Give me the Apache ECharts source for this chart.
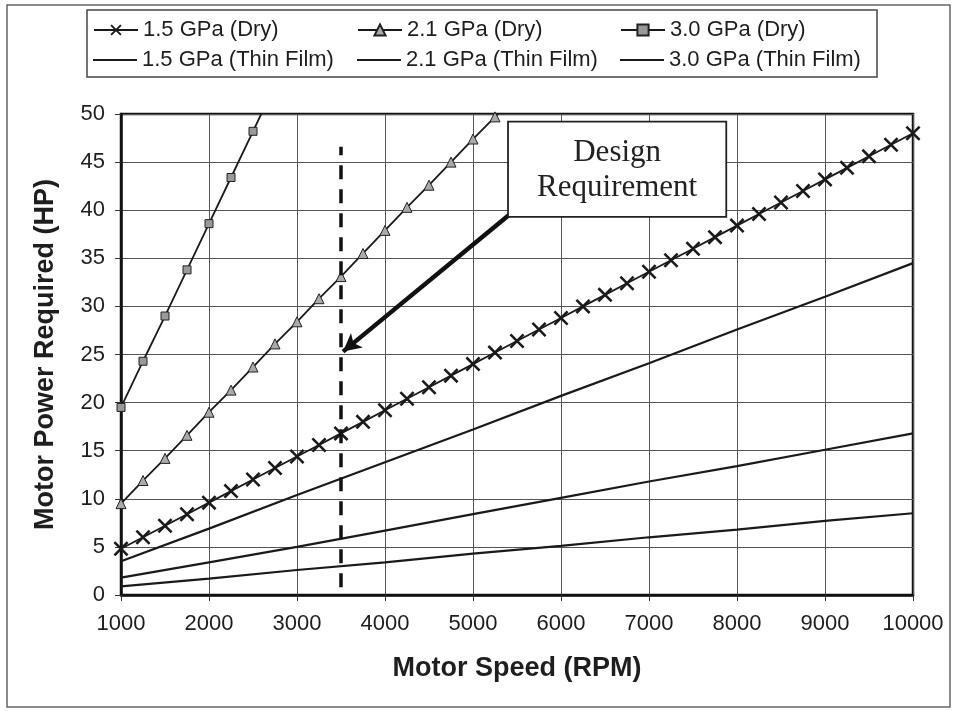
<!DOCTYPE html>
<html>
<head>
<meta charset="utf-8">
<script src="https://cdn.jsdelivr.net/npm/echarts@6/dist/echarts.min.js"></script>
<style>
html, body { margin: 0; padding: 0; background: #fff; }
#lineChart { width: 955px; height: 711px; }
</style>
</head>
<body>
<div id="lineChart"></div>
<script>
'use strict';

// motor speed for the dry curves (markers every 250 rpm)
var rpmDry = [1000, 1250, 1500, 1750, 2000, 2250, 2500, 2750, 3000, 3250, 3500, 3750,
	4000, 4250, 4500, 4750, 5000, 5250, 5500, 5750, 6000, 6250, 6500, 6750,
	7000, 7250, 7500, 7750, 8000, 8250, 8500, 8750, 9000, 9250, 9500, 9750, 10000];
// motor speed for the thin film curves
var rpmThin = [1000, 2000, 3000, 4000, 5000, 6000, 7000, 8000, 9000, 10000];

var dry15 = [4.8, 6.0, 7.2, 8.4, 9.6, 10.8, 12.0, 13.2, 14.4, 15.6, 16.8, 18.0,
	19.2, 20.4, 21.6, 22.8, 24.0, 25.2, 26.4, 27.6, 28.8, 30.0, 31.2, 32.4,
	33.6, 34.8, 36.0, 37.2, 38.4, 39.6, 40.8, 42.0, 43.2, 44.4, 45.6, 46.8, 48.0];
var dry21 = [9.5, 11.9, 14.2, 16.6, 19.0, 21.3, 23.7, 26.1, 28.4, 30.8, 33.1, 35.5,
	37.9, 40.3, 42.6, 45.0, 47.4, 49.7, 52.1];
var dry30 = [19.5, 24.3, 29.0, 33.8, 38.6, 43.4, 48.2, 53.0];

var thin15 = [3.5, 6.9, 10.4, 13.8, 17.2, 20.7, 24.1, 27.6, 31.0, 34.5];
var thin21 = [1.8, 3.4, 5.0, 6.7, 8.4, 10.1, 11.8, 13.4, 15.1, 16.8];
var thin30 = [0.9, 1.7, 2.6, 3.4, 4.3, 5.1, 6.0, 6.8, 7.7, 8.5];

var seriesNames = ['1.5 GPa (Dry)', '2.1 GPa (Dry)', '3.0 GPa (Dry)',
	'1.5 GPa (Thin Film)', '2.1 GPa (Thin Film)', '3.0 GPa (Thin Film)'];

// design requirement annotation (data coords)
var designRpm = 3500;
var designLineRange = [0.8, 46.6];
var arrowFrom = [5409, 39.5];
var arrowTo = [3523, 25.3];
var boxTopLeft = [5398, 49.2];
var boxBottomRight = [7878, 39.3];

var sans = '"Liberation Sans", Arial, sans-serif',
		serif = '"Liberation Serif", "Times New Roman", serif',
		ink = '#1a1a1a';

var crossPath = 'path://M0,1.2L1.2,0L10,8.8L8.8,10Z M8.8,0L10,1.2L1.2,10L0,8.8Z';

function pairs(xs, ys) {
	return ys.map(function (v, i) { return [xs[i], v]; });
}

function plain(v) { return String(v); }

function lineSeries(name, data, extra) {
	var s = {
		name: name,
		type: 'line',
		data: data,
		clip: true,
		animation: false,
		emphasis: { disabled: true },
		lineStyle: { color: ink, width: 1.8 },
		itemStyle: { color: ink }
	};
	for (var k in extra) { s[k] = extra[k]; }
	return s;
}

var legendPos = [
	{ left: 93, top: 19 }, { left: 357, top: 19 }, { left: 620, top: 19 },
	{ left: 93, top: 49 }, { left: 357, top: 49 }, { left: 620, top: 49 }
];

var chart = echarts.init(document.getElementById('lineChart'));

var options = {
	backgroundColor: '#fff',
	animation: false,
	textStyle: { fontFamily: sans },
	legend: seriesNames.map(function (n, i) {
		var thin = i > 2;
		return {
			data: [thin ? { name: n, icon: 'rect' } : n],
			left: legendPos[i].left,
			top: legendPos[i].top,
			padding: 0,
			itemWidth: 44,
			itemHeight: thin ? 2 : 14,
			selectedMode: false,
			textStyle: { fontSize: 22, color: '#1e1e1e', fontFamily: sans }
		};
	}),
	grid: {
		left: 121, right: 42, top: 114, bottom: 116,
		show: true,
		borderColor: '#111',
		borderWidth: 2.5,
		backgroundColor: 'transparent'
	},
	xAxis: {
		type: 'value',
		min: 1000,
		max: 10000,
		interval: 1000,
		name: 'Motor Speed (RPM)',
		nameLocation: 'middle',
		nameGap: 60,
		nameTextStyle: { fontSize: 27, fontWeight: 'bold', color: '#1e1e1e', fontFamily: sans },
		axisLine: { show: true, onZero: false, lineStyle: { color: '#111', width: 2.5 } },
		axisTick: { show: true, length: 6, lineStyle: { color: '#333' } },
		axisLabel: { fontSize: 22, color: '#1e1e1e', margin: 18, fontFamily: sans, formatter: plain },
		splitLine: { show: true, lineStyle: { color: '#555', width: 1 } }
	},
	yAxis: {
		type: 'value',
		min: 0,
		max: 50,
		interval: 5,
		name: 'Motor Power Required (HP)',
		nameLocation: 'middle',
		nameGap: 62,
		nameTextStyle: { fontSize: 27, fontWeight: 'bold', color: '#1e1e1e', fontFamily: sans },
		axisLine: { show: true, onZero: false, lineStyle: { color: '#111', width: 2.5 } },
		axisTick: { show: true, length: 6, lineStyle: { color: '#333' } },
		axisLabel: { fontSize: 22, color: '#1e1e1e', margin: 16, fontFamily: sans, formatter: plain },
		splitLine: { show: true, lineStyle: { color: '#555', width: 1 } }
	},
	series: [
		lineSeries(seriesNames[0], pairs(rpmDry, dry15), {
			symbol: crossPath, symbolSize: 15, z: 4
		}),
		lineSeries(seriesNames[1], pairs(rpmDry, dry21), {
			symbol: 'triangle', symbolSize: 10, z: 4,
			itemStyle: { color: '#aaa', borderColor: '#222', borderWidth: 1 }
		}),
		lineSeries(seriesNames[2], pairs(rpmDry, dry30), {
			symbol: 'rect', symbolSize: 8, z: 4,
			itemStyle: { color: '#999', borderColor: '#222', borderWidth: 1 }
		}),
		lineSeries(seriesNames[3], pairs(rpmThin, thin15), {
			symbol: 'none', lineStyle: { color: ink, width: 2.2 }
		}),
		lineSeries(seriesNames[4], pairs(rpmThin, thin21), {
			symbol: 'none', lineStyle: { color: ink, width: 2.2 }
		}),
		lineSeries(seriesNames[5], pairs(rpmThin, thin30), {
			symbol: 'none', lineStyle: { color: ink, width: 2.2 },
			markLine: {
				silent: true,
				animation: false,
				label: { show: false },
				emphasis: { disabled: true },
				data: [
					[
						{ coord: [designRpm, designLineRange[0]], symbol: 'none',
							lineStyle: { color: '#111', width: 3.5, type: [14, 10] } },
						{ coord: [designRpm, designLineRange[1]], symbol: 'none' }
					],
					[
						{ coord: arrowFrom, symbol: 'none',
							lineStyle: { color: '#111', width: 4.5, type: 'solid' } },
						{ coord: arrowTo, symbol: 'arrow', symbolSize: [14, 18] }
					]
				]
			}
		})
	]
};

chart.setOption(options);

var p1 = chart.convertToPixel({ gridIndex: 0 }, boxTopLeft),
		p2 = chart.convertToPixel({ gridIndex: 0 }, boxBottomRight);

chart.setOption({
	graphic: [
		{
			type: 'rect', z: 0, silent: true,
			shape: { x: 7, y: 5, width: 943, height: 702 },
			style: { fill: 'none', stroke: '#666', lineWidth: 1.5 }
		},
		{
			type: 'rect', z: 0, silent: true,
			shape: { x: 87, y: 10, width: 790, height: 67 },
			style: { fill: 'none', stroke: '#444', lineWidth: 1.5 }
		},
		{
			type: 'rect', z: 100, silent: true,
			shape: { x: p1[0], y: p1[1], width: p2[0] - p1[0], height: p2[1] - p1[1] },
			style: { fill: '#fff', stroke: '#222', lineWidth: 1.8 }
		},
		{
			type: 'text', z: 101, silent: true,
			x: (p1[0] + p2[0]) / 2,
			y: (p1[1] + p2[1]) / 2 + 1,
			style: {
				text: 'Design\nRequirement',
				fontSize: 31,
				fontFamily: serif,
				lineHeight: 35,
				fill: '#222',
				align: 'center',
				verticalAlign: 'middle'
			}
		}
	]
});
</script>
</body>
</html>
